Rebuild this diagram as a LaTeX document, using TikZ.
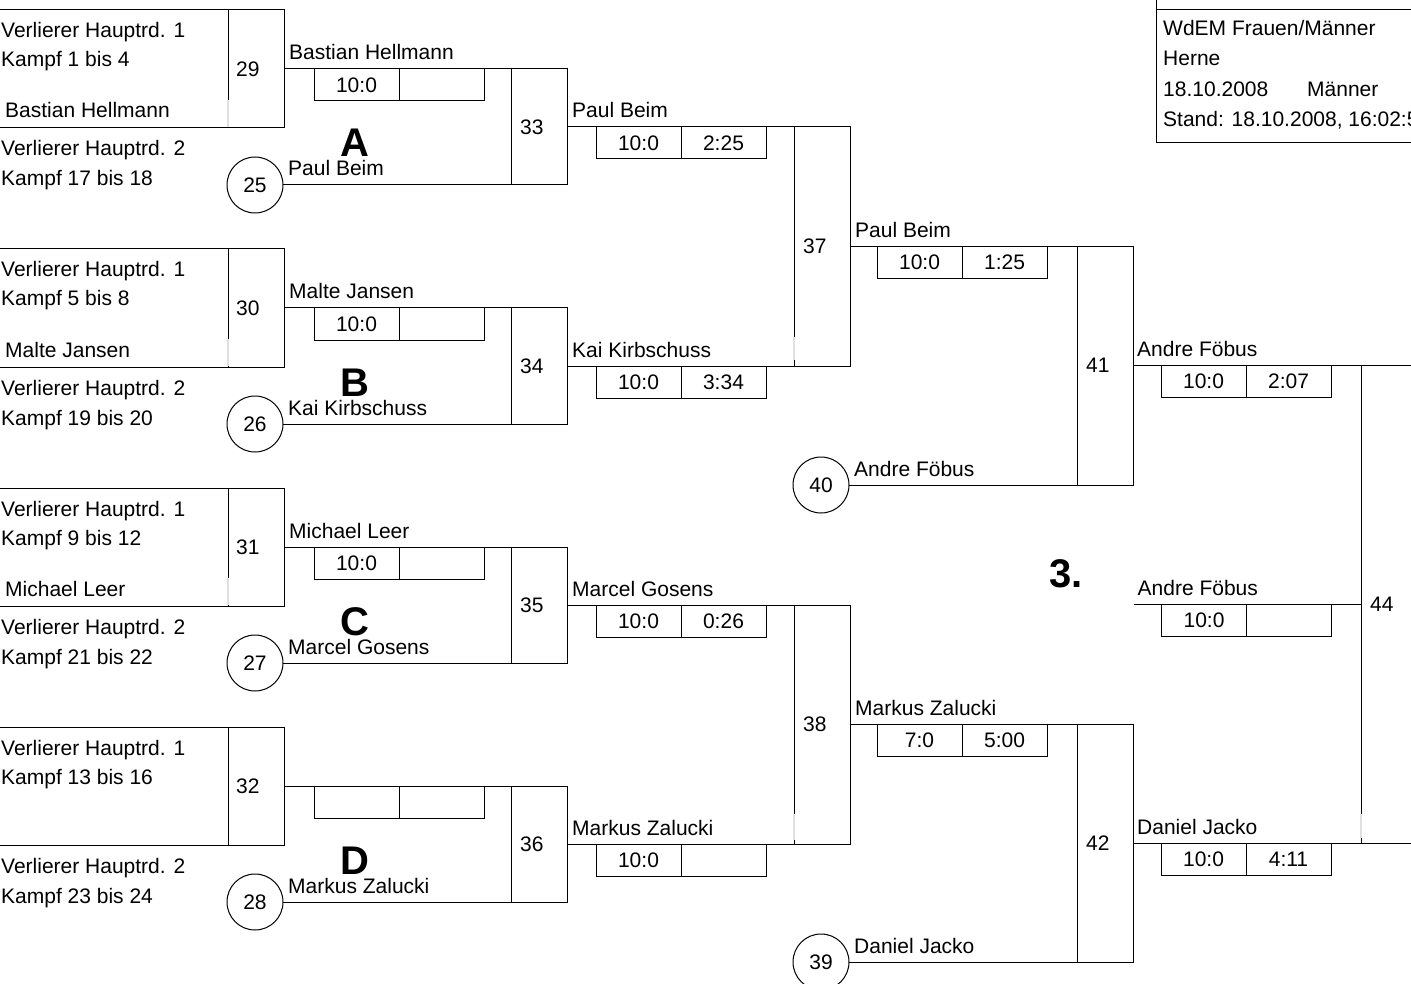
\documentclass[tikz,border=0pt]{standalone}
\usepackage{fontspec}
\setmainfont{Liberation Sans}
\usetikzlibrary{calc}
\tikzset{
  ln/.style={draw=black, line width=1pt},
  txt/.style={inner sep=0pt, anchor=base west, font=\fontsize{21}{25}\selectfont},
  num/.style={inner sep=0pt, font=\fontsize{21}{25}\selectfont},
  big/.style={inner sep=0pt, anchor=base, font=\fontsize{40}{44}\selectfont\bfseries},
  mbox/.style={ln, rectangle, anchor=north west, minimum width=56, inner sep=0pt, outer sep=0pt},
  cell/.style={ln, rectangle, anchor=north west, minimum width=85, minimum height=32, inner sep=0pt, outer sep=0pt, font=\fontsize{21}{25}\selectfont},
  circ/.style={ln, circle, minimum size=56, inner sep=0pt, outer sep=0pt, font=\fontsize{21}{25}\selectfont},
  gapline/.style={draw=black!12, line width=1.4pt},
}
% #1 num, #2 top, #3 kampf1, #4 name, #5 kampf2, #6 circle num, #7 letter
\newcommand\leftblock[7]{%
  \node[ln, anchor=north west, minimum width=231, minimum height=118, inner sep=0pt, outer sep=0pt] (L#1) at (-3,#2) {};
  \node[mbox, minimum height=118] (B#1) at (228,#2) {};
  \node[num, anchor=west] (N#1) at ($(B#1.west)+(8,0)$) {#1};
  \node[txt] at (1,{#2+28}) {Verlierer Hauptrd. 1};
  \node[txt] at (1,{#2+57}) {Kampf #3};
  \node[txt] at (5,{#2+108}) {#4};
  \node[txt] at (1,{#2+146}) {Verlierer Hauptrd. 2};
  \node[txt] at (1,{#2+176}) {Kampf #5};
  \node[circ] (C#6) at (255,{#2+175}) {#6};
  \node[big] at (355,{#2+147}) {#7};
}
% #1 name, #2 x, #3 top, #4 height, #5 number
\newcommand\matchbox[5]{%
  \node[mbox, minimum height=#4] (#1) at (#2,#3) {};
  \node[num, anchor=west] at ($(#1.west)+(9,0)$) {#5};
}
% #1 name, #2 node, #3 dx, #4 t1, #5 t2
\newcommand\scorebox[5]{%
  \node[cell] (#1a) at ($(#2.east)+(#3,0)$) {#4};
  \node[cell] (#1b) at (#1a.north east) {#5};
}
% #1 node, #2 dx, #3 text
\newcommand\winner[3]{%
  \node[txt] at ($(#1.east)+(#2,-9)$) {#3};
}
\begin{document}
\begin{tikzpicture}[x=1pt,y=-1pt]
\useasboundingbox (0,0) rectangle (1411,984);
\clip (0,0) rectangle (1411,984);

% left blocks
\leftblock{29}{10}{1 bis 4}{Bastian Hellmann}{17 bis 18}{25}{A}
\leftblock{30}{249}{5 bis 8}{Malte Jansen}{19 bis 20}{26}{B}
\leftblock{31}{488}{9 bis 12}{Michael Leer}{21 bis 22}{27}{C}
\leftblock{32}{727}{13 bis 16}{}{23 bis 24}{28}{D}
\foreach \b in {29,30,31}{
  \draw[gapline] ($(B\b.north west)+(0,90)$) -- ($(B\b.south west)+(0,-1)$);
}

% round boxes
\matchbox{M33}{511}{69}{116}{33}
\matchbox{M34}{511}{308}{116}{34}
\matchbox{M35}{511}{547}{116}{35}
\matchbox{M36}{511}{786}{116}{36}
\matchbox{M37}{794}{127}{239}{37}
\matchbox{M38}{794}{605}{239}{38}
\matchbox{M41}{1077}{246.5}{238.5}{41}
\matchbox{M42}{1077}{724.5}{237.5}{42}
\node[mbox, minimum width=80, minimum height=477.5] (M44) at (1361,365.75) {};
\node[num, anchor=west] at ($(M44.west)+(9,0)$) {44};

\node[circ] (C40) at (821,485) {40};
\node[circ] (C39) at (821,962) {39};
\node[inner sep=0pt, outer sep=0pt] (T3) at (M41.east |- M44.west) {};

% connectors
\foreach \b/\c/\m in {29/25/M33,30/26/M34,31/27/M35,32/28/M36}{
  \draw[ln] (B\b.east) -- (\m.north west);
  \draw[ln] (C\c.east) -- (\m.south west);
}
\draw[ln] (M33.east) -- (M37.north west);
\draw[ln] (M34.east) -- (M37.south west);
\draw[ln] (M35.east) -- (M38.north west);
\draw[ln] (M36.east) -- (M38.south west);
\draw[ln] (M37.east) -- (M41.north west);
\draw[ln] (C40.east) -- (M41.south west);
\draw[ln] (M38.east) -- (M42.north west);
\draw[ln] (C39.east) -- (M42.south west);
\draw[ln] (M41.east) -- (M44.north west);
\draw[ln] (M42.east) -- (M44.south west);
\draw[ln] (T3) -- (M44.west);

% gaps in some vertical lines
\draw[gapline] ($(M37.south west)+(0,-29)$) -- ($(M37.south west)+(0,-6)$);
\draw[gapline] ($(M38.south west)+(0,-30)$) -- ($(M38.south west)+(0,-4)$);
\draw[gapline] ($(M44.south west)+(0,-29)$) -- ($(M44.south west)+(0,-5)$);

% first round
\winner{B29}{5}{Bastian Hellmann}
\scorebox{S29}{B29}{30}{10:0}{}
\winner{C25}{5}{Paul Beim}
\winner{B30}{5}{Malte Jansen}
\scorebox{S30}{B30}{30}{10:0}{}
\winner{C26}{5}{Kai Kirbschuss}
\winner{B31}{5}{Michael Leer}
\scorebox{S31}{B31}{30}{10:0}{}
\winner{C27}{5}{Marcel Gosens}
\scorebox{S32}{B32}{30}{}{}
\winner{C28}{5}{Markus Zalucki}

% second round
\winner{M33}{5}{Paul Beim}
\scorebox{S33}{M33}{29}{10:0}{2:25}
\winner{M34}{5}{Kai Kirbschuss}
\scorebox{S34}{M34}{29}{10:0}{3:34}
\winner{M35}{5}{Marcel Gosens}
\scorebox{S35}{M35}{29}{10:0}{0:26}
\winner{M36}{5}{Markus Zalucki}
\scorebox{S36}{M36}{29}{10:0}{}

% third round
\winner{M37}{5}{Paul Beim}
\scorebox{S37}{M37}{27}{10:0}{1:25}
\winner{C40}{5}{Andre Föbus}
\winner{M38}{5}{Markus Zalucki}
\scorebox{S38}{M38}{27}{7:0}{5:00}
\winner{C39}{5}{Daniel Jacko}

% fourth round
\winner{M41}{4}{Andre Föbus}
\scorebox{S41}{M41}{28}{10:0}{2:07}
\winner{T3}{4}{Andre Föbus}
\scorebox{ST}{T3}{28}{10:0}{}
\winner{M42}{4}{Daniel Jacko}
\scorebox{S42}{M42}{28}{10:0}{4:11}

\node[big, anchor=base west] (third) at (1049,587) {3.};

% header
\node[ln, anchor=north west, minimum width=280, minimum height=133, inner sep=0pt, outer sep=0pt] (H) at (1156,10) {};
\draw[ln] (H.north west) -- ++(0,-15);
\node[txt] at (1163,36) {WdEM Frauen/Männer};
\node[txt] at (1163,66) {Herne};
\node[txt] at (1163,96.5) {18.10.2008};
\node[txt] at (1307,96.5) {Männer};
\node[txt] at (1163,126.5) {Stand: 18.10.2008, 16:02:5};
\end{tikzpicture}
\end{document}
